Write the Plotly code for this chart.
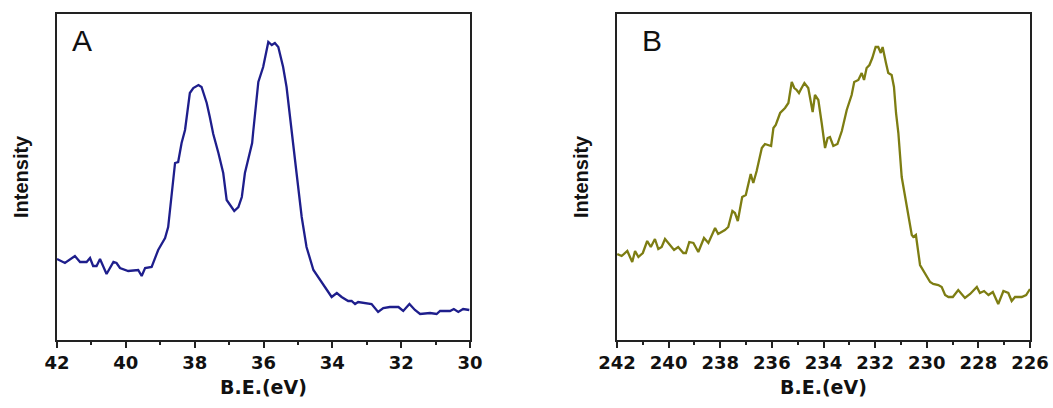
import plotly.graph_objects as go

# Panel A: binding energy (eV) and intensity (a.u.)
be_a = [42.00, 41.77, 41.48, 41.33, 41.14, 41.04, 40.95, 40.85, 40.75, 40.56,
        40.36, 40.27, 40.17, 39.93, 39.64, 39.54, 39.44, 39.25, 39.06, 38.86,
        38.77, 38.67, 38.57, 38.48, 38.38, 38.28, 38.14, 38.04, 37.89, 37.80,
        37.65, 37.56, 37.46, 37.31, 37.17, 37.07, 36.97, 36.85, 36.73, 36.63,
        36.54, 36.39, 36.33, 36.30, 36.15, 36.01, 35.86, 35.76, 35.67, 35.57,
        35.43, 35.33, 35.18, 35.04, 34.89, 34.75, 34.55, 34.31, 34.16, 34.02,
        33.87, 33.73, 33.54, 33.44, 33.34, 33.25, 32.86, 32.67, 32.52, 32.33,
        32.08, 31.94, 31.76, 31.60, 31.45, 31.16, 30.97, 30.87, 30.58, 30.47,
        30.34, 30.20, 30.02]
int_a = [81, 77, 84, 78, 78, 82, 74, 74, 81, 66,
         78, 77, 72, 69, 70, 64, 72, 73, 90, 102,
         113, 143, 177, 178, 197, 210, 247, 252, 255, 253,
         237, 223, 206, 187, 167, 140, 135, 129, 133, 143,
         167, 187, 197, 208, 258, 273, 298, 295, 297, 293,
         273, 253, 205, 167, 123, 93, 70, 58, 51, 43,
         47, 43, 39, 39, 36, 38, 36, 28, 32, 33,
         33, 29, 36, 30, 26, 27, 26, 29, 29, 31,
         28, 31, 30]

# Panel B: binding energy (eV) and intensity (a.u.)
be_b = [241.99, 241.82, 241.60, 241.41, 241.30, 241.17, 241.00, 240.83, 240.69, 240.53,
        240.40, 240.27, 240.14, 239.95, 239.79, 239.63, 239.43, 239.33, 239.20, 239.04,
        238.85, 238.63, 238.46, 238.20, 238.08, 237.82, 237.69, 237.53, 237.43, 237.32,
        237.15, 237.01, 236.82, 236.72, 236.59, 236.39, 236.27, 236.03, 235.94, 235.85,
        235.68, 235.49, 235.36, 235.23, 235.13, 235.04, 234.95, 234.87, 234.74, 234.59,
        234.42, 234.33, 234.20, 234.07, 233.94, 233.84, 233.75, 233.62, 233.46, 233.29,
        233.10, 232.91, 232.81, 232.65, 232.52, 232.43, 232.33, 232.22, 232.11, 231.98,
        231.88, 231.78, 231.71, 231.58, 231.49, 231.36, 231.27, 231.19, 231.10, 230.97,
        230.88, 230.71, 230.58, 230.52, 230.42, 230.26, 230.07, 229.87, 229.75, 229.55,
        229.42, 229.29, 229.16, 228.99, 228.78, 228.52, 228.32, 228.06, 227.94, 227.78,
        227.61, 227.44, 227.23, 227.03, 226.84, 226.71, 226.58, 226.32, 226.15, 226.00]
int_b = [86, 84, 89, 78, 89, 83, 87, 99, 93, 101,
         91, 93, 101, 95, 90, 93, 87, 87, 98, 97,
         88, 102, 97, 112, 106, 110, 113, 129, 127, 119,
         143, 145, 166, 157, 169, 192, 196, 194, 212, 215,
         227, 232, 237, 258, 252, 250, 247, 251, 257, 252,
         228, 245, 240, 217, 192, 202, 203, 194, 196, 209,
         230, 245, 258, 260, 267, 260, 272, 275, 282, 293,
         293, 287, 293, 277, 267, 265, 253, 227, 207, 163,
         150, 127, 105, 103, 105, 75, 67, 58, 56, 55,
         53, 45, 43, 43, 50, 42, 46, 53, 47, 49,
         45, 48, 36, 49, 47, 39, 43, 43, 45, 51]

ticks_a = [42, 40, 38, 36, 34, 32, 30]
ticks_b = [242, 240, 238, 236, 234, 232, 230, 228, 226]

W, H = 1053, 408
frame_col = "#222222"
tick_font = dict(family="DejaVu Sans", size=18, color="#111111", weight="bold")

fig = go.Figure()
fig.add_trace(go.Scatter(x=be_a, y=int_a, mode="lines", xaxis="x", yaxis="y",
                         line=dict(color="#1e1e8c", width=2.3), showlegend=False))
fig.add_trace(go.Scatter(x=be_b, y=int_b, mode="lines", xaxis="x2", yaxis="y2",
                         line=dict(color="#7d7d12", width=2.3), showlegend=False))

def xaxis(domain, rng, ticks, anchor):
    return dict(domain=domain, range=rng, anchor=anchor, tickvals=ticks,
                ticktext=[str(t) for t in ticks], ticks="outside", ticklen=6,
                tickwidth=1.5, tickcolor=frame_col, showline=True, linecolor=frame_col,
                linewidth=1.6, mirror=True, showgrid=False, zeroline=False,
                tickfont=tick_font, automargin=False,
                minor=dict(dtick=1, ticks="outside", ticklen=3, tickwidth=1.5,
                           tickcolor=frame_col, showgrid=False))

def yaxis(anchor):
    return dict(domain=[(H - 340) / H, (H - 14) / H], range=[0, 326], anchor=anchor,
                showticklabels=False, ticks="", showline=True, linecolor=frame_col,
                linewidth=1.6, mirror=True, showgrid=False, zeroline=False,
                automargin=False)

fig.update_layout(
    width=W, height=H, margin=dict(l=0, r=0, t=0, b=0),
    paper_bgcolor="white", plot_bgcolor="white",
    xaxis=xaxis([57 / W, 470 / W], [42, 30], ticks_a, "y"),
    yaxis=yaxis("x"),
    xaxis2=xaxis([617 / W, 1030 / W], [242, 226], ticks_b, "y2"),
    yaxis2=yaxis("x2"),
)

title_font = dict(family="DejaVu Sans", size=19, color="#111111", weight="bold")
label_font = dict(family="Liberation Sans", size=30, color="#111111")
ylab_font = dict(family="Liberation Sans", size=20, color="#111111", weight="bold")

for cx, panel, px in [((57 + 470) / 2, "A", 70), ((617 + 1030) / 2, "B", 640)]:
    fig.add_annotation(x=cx / W, y=(H - 387) / H, xref="paper", yref="paper",
                       text="B.E.(eV)", showarrow=False, font=title_font,
                       xanchor="center", yanchor="middle")
    fig.add_annotation(x=px / W, y=(H - 41) / H, xref="paper", yref="paper",
                       text=panel, showarrow=False, font=label_font,
                       xanchor="left", yanchor="middle")

for lx in [21, 581]:
    fig.add_annotation(x=lx / W, y=(H - 177) / H, xref="paper", yref="paper",
                       text="Intensity", showarrow=False, font=ylab_font,
                       textangle=-90, xanchor="center", yanchor="middle")

fig.write_html("out.html")
